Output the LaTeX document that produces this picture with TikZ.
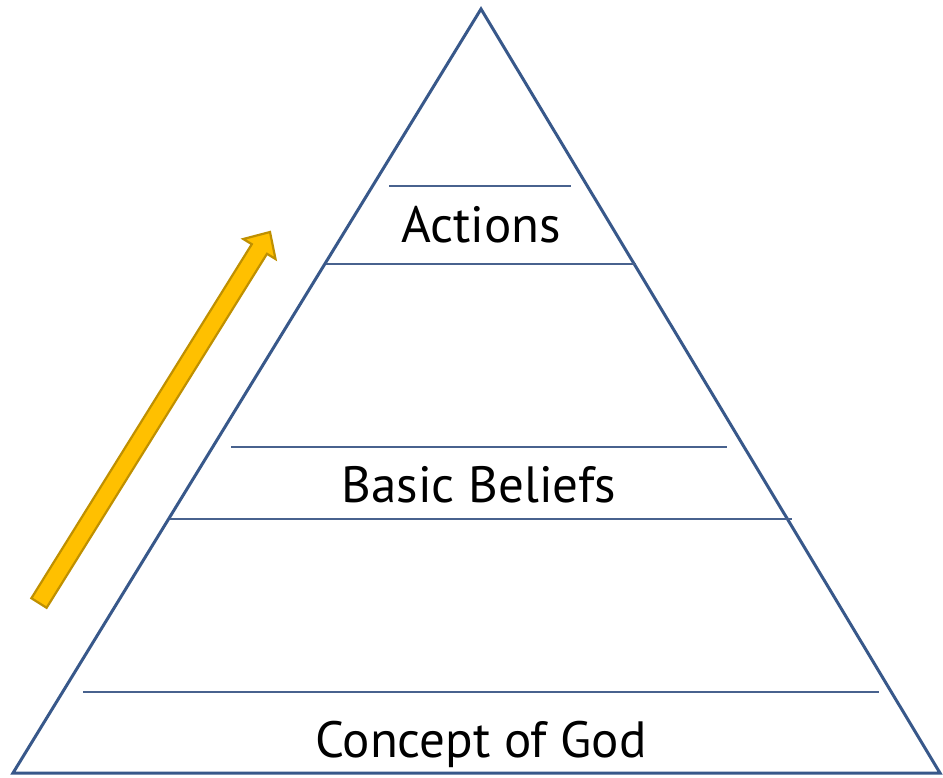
\documentclass[tikz,border=0pt]{standalone}
\usepackage{fontspec}
\setmainfont{PT Sans}
\definecolor{edge}{RGB}{56,88,138}
\definecolor{inner}{RGB}{72,98,142}
\definecolor{gold}{RGB}{255,192,0}
\definecolor{golddark}{RGB}{191,144,0}
\tikzset{
  outline/.style={draw=edge, line width=3pt, line join=miter},
  tierline/.style={draw=inner, line width=2.6pt},
  label/.style={anchor=base, font=\fontsize{51}{54}\selectfont, inner sep=0pt},
  uparrow/.style={fill=gold, draw=golddark, line width=2.2pt, line join=miter}
}
\begin{document}
\begin{tikzpicture}[x=1pt,y=-1pt]
\useasboundingbox (0,0) rectangle (943,777);
\fill[white] (0,0) rectangle (943,777);
% pyramid
\coordinate (apex) at (481,9);
\coordinate (bl) at (13,773);
\coordinate (br) at (940,773);
\draw[outline] (apex) -- (bl) -- (br) -- cycle;
% tier dividers touching the sides
\draw[tierline] (326,264) -- (636,264);
\draw[tierline] (170,519) -- (792,519);
% short lines above labels
\draw[tierline] (389,186) -- (571,186);
\draw[tierline] (231,447) -- (727,447);
\draw[tierline] (83,692) -- (879,692);
% labels
\node[label] (actions) at (481,242) {Actions};
\node[label] (beliefs) at (479,502) {Basic Beliefs};
\node[label] (god) at (481,757) {Concept of God};
% arrow
\draw[uparrow] (31.4,598.2) -- (251.8,244.2) -- (243.3,239.0) -- (270,232) -- (275.5,259.0) -- (267.0,253.8) -- (46.6,607.8) -- cycle;
\end{tikzpicture}
\end{document}
